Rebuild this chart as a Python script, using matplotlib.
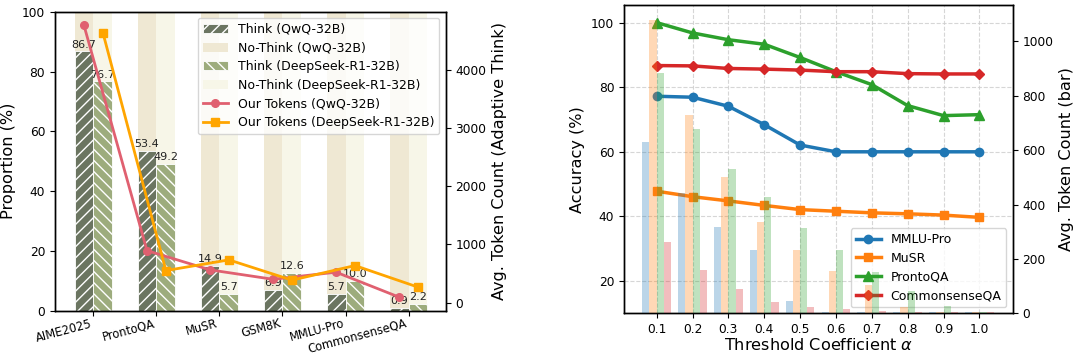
import matplotlib
matplotlib.use("Agg")
import matplotlib.pyplot as plt
import numpy as np

plt.rcParams['font.family'] = ['DejaVu Sans']
plt.rcParams['axes.linewidth'] = 1.0
plt.rcParams['hatch.linewidth'] = 1.0

# ---------------- Left chart data ----------------
datasets = ["AIME2025", "ProntoQA", "MuSR", "GSM8K", "MMLU-Pro", "CommonsenseQA"]
think_qwq = [86.7, 53.4, 14.9, 6.9, 5.7, 0.9]
think_ds = [76.7, 49.2, 5.7, 12.6, 10.0, 2.2]
tokens_qwq = [4771, 893, 562, 400, 522, 93]
tokens_ds = [4646, 550, 734, 385, 636, 265]

# ---------------- Right chart data ----------------
alphas = [0.1, 0.2, 0.3, 0.4, 0.5, 0.6, 0.7, 0.8, 0.9, 1.0]
alpha_labels = ["0.1", "0.2", "0.3", "0.4", "0.5", "0.6", "0.7", "0.8", "0.9", "1.0"]
acc_mmlu = [77.2, 76.9, 74.1, 68.4, 62.1, 60.0, 60.0, 60.0, 60.0, 60.0]
acc_musr = [47.8, 46.1, 44.8, 43.4, 42.1, 41.6, 41.1, 40.8, 40.4, 39.7]
acc_pronto = [100.0, 96.8, 94.7, 93.3, 89.2, 84.8, 80.8, 74.3, 71.2, 71.5]
acc_csqa = [86.7, 86.6, 85.8, 85.6, 85.3, 84.8, 84.8, 84.2, 84.1, 84.1]
tok_mmlu = [629, 442, 316, 233, 46, 3, 3, 3, 3, 3]
tok_musr = [1077, 729, 500, 336, 233, 157, 104, 22, 6, 3]
tok_pronto = [883, 677, 531, 427, 313, 233, 153, 83, 27, 3]
tok_csqa = [264, 159, 88, 43, 23, 15, 9, 5, 5, 3]

fig = plt.figure(figsize=(10.8, 3.54), dpi=100)

# ================= Left =================
TICK = 8.8
LAB = 11.6
ax1 = fig.add_axes([0.0509, 0.1223, 0.3618, 0.8446])
x = np.arange(len(datasets))
w = 0.3
c_qwq = "#6b7561"
c_ds = "#9dac7d"
c_nq = "#efe8d3"
c_nd = "#f7f6e8"

b1 = ax1.bar(x - w / 2, think_qwq, w, color=c_qwq, edgecolor="white", linewidth=0.6,
             hatch="///", label="Think (QwQ-32B)")
b2 = ax1.bar(x - w / 2, [100 - v for v in think_qwq], w, bottom=think_qwq, color=c_nq,
             linewidth=0, label="No-Think (QwQ-32B)")
b3 = ax1.bar(x + w / 2, think_ds, w, color=c_ds, edgecolor="white", linewidth=0.6,
             hatch="\\\\\\", label="Think (DeepSeek-R1-32B)")
b4 = ax1.bar(x + w / 2, [100 - v for v in think_ds], w, bottom=think_ds, color=c_nd,
             linewidth=0, label="No-Think (DeepSeek-R1-32B)")
for xi, v in zip(x - w / 2, think_qwq):
    ax1.text(xi, v + 0.6, f"{v:.1f}", ha="center", va="bottom", fontsize=8, color="#222222")
for xi, v in zip(x + w / 2, think_ds):
    ax1.text(xi, v + 0.6, f"{v:.1f}", ha="center", va="bottom", fontsize=8, color="#222222")

ax1.set_ylim(0, 100)
ax1.set_xlim(-0.61, 5.59)
ax1.set_yticks([0, 20, 40, 60, 80, 100])
ax1.set_xticks(x)
ax1.set_xticklabels(datasets, rotation=15, ha="right", rotation_mode="default")
ax1.set_ylabel("Proportion (%)", fontsize=LAB)
ax1.tick_params(labelsize=TICK)
ax1.tick_params(axis="x", labelsize=8.3, pad=1)

ax1b = ax1.twinx()
l1, = ax1b.plot(x - w / 2, tokens_qwq, color="#e06070", marker="o", markersize=5.5,
                linewidth=2, label="Our Tokens (QwQ-32B)")
l2, = ax1b.plot(x + w / 2, tokens_ds, color="#ffa500", marker="s", markersize=5.5,
                linewidth=2, label="Our Tokens (DeepSeek-R1-32B)")
ax1b.set_yticks([0, 1000, 2000, 3000, 4000])
ax1b.set_ylabel("Avg. Token Count (Adaptive Think)", fontsize=LAB)
ax1b.tick_params(labelsize=TICK)
ax1b.legend(handles=[b1, b2, b3, b4, l1, l2], loc="upper right", fontsize=9,
            labelspacing=0.45)

# ================= Right =================
ax2 = fig.add_axes([0.5778, 0.115, 0.3599, 0.8695])
ax2.plot(alphas, acc_mmlu, color="tab:blue", marker="o", markersize=6, linewidth=2.5, label="MMLU-Pro")
ax2.plot(alphas, acc_musr, color="tab:orange", marker="s", markersize=6, linewidth=2.5, label="MuSR")
ax2.plot(alphas, acc_pronto, color="tab:green", marker="^", markersize=6.5, linewidth=2.5, label="ProntoQA")
ax2.plot(alphas, acc_csqa, color="tab:red", marker="D", markersize=5.5, linewidth=2.5, label="CommonsenseQA")
ax2.set_ylim(10, 105.3)
ax2.set_xticks(alphas)
ax2.set_xticklabels(alpha_labels)
ax2.set_yticks([20, 40, 60, 80, 100])
ax2.grid(True, linestyle="--", color="#cccccc", linewidth=0.8, alpha=0.8)
ax2.set_axisbelow(True)
ax2.set_xlabel(r"Threshold Coefficient $\alpha$", fontsize=LAB, labelpad=0.5)
ax2.set_ylabel("Accuracy (%)", fontsize=LAB)
ax2.tick_params(labelsize=TICK)
ax2.legend(loc="lower right", fontsize=9, labelspacing=0.45)

ax2b = ax2.twinx()
bw = 0.02
xa = np.array(alphas)
ax2b.bar(xa - 1.5 * bw, tok_mmlu, bw, color="tab:blue", alpha=0.3)
ax2b.bar(xa - 0.5 * bw, tok_musr, bw, color="tab:orange", alpha=0.3)
ax2b.bar(xa + 0.5 * bw, tok_pronto, bw, color="tab:green", alpha=0.3)
ax2b.bar(xa + 1.5 * bw, tok_csqa, bw, color="tab:red", alpha=0.3)
ax2b.set_ylim(0, 1132)
ax2b.set_yticks([0, 200, 400, 600, 800, 1000])
ax2b.set_ylabel("Avg. Token Count (bar)", fontsize=LAB)
ax2b.tick_params(labelsize=TICK)
ax2.set_xlim(0.009, 1.093)

fig.savefig("out.png", dpi=100)
